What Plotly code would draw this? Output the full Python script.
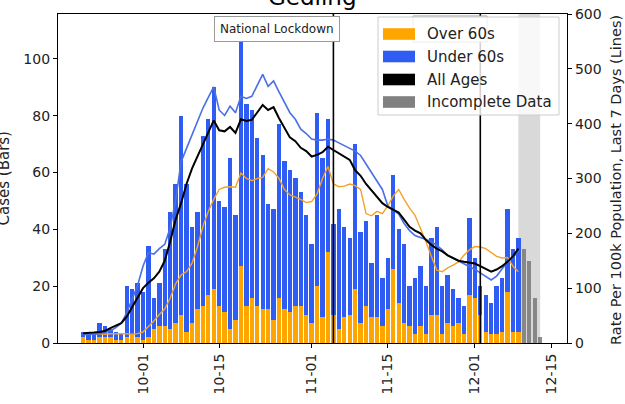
import pandas as pd
import plotly.graph_objects as go

# ---------------- data ----------------
dates = [d.strftime("%Y-%m-%d") for d in pd.date_range("2020-09-20", "2020-12-09")]

over60 = [2, 1, 1, 2, 2, 2, 1, 1, 2, 3, 2,
          1, 2, 5, 6, 6, 5, 7, 10, 4, 7, 12, 13, 17, 19, 13, 11, 5, 8, 27, 13,
          16, 13, 12, 12, 8, 16, 12, 11, 13, 13, 10,
          7, 20, 9, 32, 10, 5, 9, 10, 19, 7, 13, 9, 9, 6, 12, 26, 14, 7, 6, 3,
          6, 3, 10, 10, 3, 7, 6, 7, 3, 17,
          16, 10, 4, 3, 3, 4, 18, 4, 4]

under60 = [2, 2, 2, 5, 4, 3, 3, 2, 18, 16, 19,
           17, 32, 11, 15, 27, 41, 49, 70, 52, 34, 34, 60, 62, 71, 37, 37, 60, 37, 83, 71,
           66, 59, 54, 37, 39, 61, 52, 50, 45, 40, 35,
           28, 61, 56, 47, 32, 42, 32, 27, 51, 32, 30, 19, 36, 17, 18, 33, 26, 28, 14, 20,
           21, 17, 27, 31, 17, 17, 13, 9, 10, 27,
           14, 10, 13, 11, 17, 19, 29, 29, 33]

incomplete_dates = ["2020-12-10", "2020-12-11", "2020-12-12", "2020-12-13"]
incomplete_cases = [33, 29, 16, 2]

rate_over60 = [19, 18, 17, 16, 16, 17, 17, 18, 17, 16, 17,
               20, 30, 40, 52, 62, 82, 108, 124, 130, 145, 175, 212, 240, 262, 280, 284, 285, 284, 310, 300,
               296, 300, 302, 318, 312, 300, 280, 270, 266, 262, 256,
               258, 272, 300, 322, 290, 285, 286, 290, 287, 280, 236, 232, 240, 236, 250, 268, 280, 262, 246, 233,
               210, 185, 158, 133, 130, 137, 142, 148, 160, 170,
               176, 175, 172, 165, 158, 155, 156, 140, 130]

rate_under60 = [15, 15, 16, 17, 19, 22, 28, 36, 55, 80, 105,
                140, 165, 162, 172, 180, 210, 260, 330, 355, 380, 405, 428, 448, 467, 425, 415, 432, 420, 450, 446,
                450, 470, 490, 468, 478, 458, 440, 420, 408, 390, 382,
                372, 370, 370, 372, 370, 365, 360, 356, 350, 342, 326, 312, 295, 280, 250, 243, 235, 218, 205, 196,
                192, 188, 185, 178, 170, 160, 155, 150, 145, 140,
                134, 128, 121, 115, 122, 135, 148, 155, 168]

rate_all = [18, 18, 19, 20, 22, 27, 31, 36, 48, 66, 84,
            100, 110, 118, 130, 150, 185, 225, 255, 290, 318, 340, 362, 385, 406, 388, 386, 394, 383, 408, 405,
            407, 420, 434, 425, 430, 410, 392, 375, 368, 356, 350,
            340, 343, 348, 358, 352, 346, 340, 334, 315, 305, 290, 278, 265, 255, 248, 243, 238, 225, 212, 205,
            200, 188, 179, 172, 167, 160, 155, 150, 148, 147,
            145, 140, 135, 130, 134, 140, 148, 158, 172]

tick_dates = ["2020-10-01", "2020-10-15", "2020-11-01", "2020-11-15", "2020-12-01", "2020-12-15"]
tick_labels = ["10-01", "10-15", "11-01", "11-15", "12-01", "12-15"]

lockdown_date = "2020-11-05"
second_marker_date = "2020-12-02"
incomplete_span = ["2020-12-09", "2020-12-13"]

# ---------------- styling ----------------
FONT = "DejaVu Sans"
ORANGE = "#FFA500"
BLUE = "#2F5CF2"
BLUE_LINE = "#4A6FE6"
ORANGE_LINE = "#F2A22A"
GRAY = "#808080"
BAR_W = 0.8 * 86400000

W, H = 625, 404
L, R, T, B = 58, 58, 14, 61
PW, PH = W - L - R, H - T - B


def px(x):
    return (x - L) / PW


def py(y):
    return (H - B - y) / PH


fig = go.Figure()

fig.add_trace(go.Bar(x=dates, y=over60, name="Over 60s", marker=dict(color=ORANGE, line=dict(width=0)),
                     width=BAR_W, showlegend=False))
fig.add_trace(go.Bar(x=dates, y=under60, name="Under 60s", marker=dict(color=BLUE, line=dict(width=0)),
                     width=BAR_W, showlegend=False))
fig.add_trace(go.Bar(x=incomplete_dates, y=incomplete_cases, name="Incomplete Data",
                     marker=dict(color="rgba(120,120,120,0.85)", line=dict(width=0)),
                     width=BAR_W, showlegend=False))

fig.add_trace(go.Scatter(x=dates, y=rate_over60, mode="lines", line=dict(color=ORANGE_LINE, width=1.4),
                         yaxis="y2", showlegend=False))
fig.add_trace(go.Scatter(x=dates, y=rate_under60, mode="lines", line=dict(color=BLUE_LINE, width=1.6),
                         yaxis="y2", showlegend=False))
fig.add_trace(go.Scatter(x=dates, y=rate_all, mode="lines", line=dict(color="black", width=2),
                         yaxis="y2", showlegend=False))

shapes = []
# incomplete data shading
shapes.append(dict(type="rect", xref="x", yref="paper", x0=incomplete_span[0], x1=incomplete_span[1],
                   y0=0, y1=1, fillcolor="#D9D9D9", line=dict(width=0), layer="below"))
# vertical markers
for d in [lockdown_date, second_marker_date]:
    shapes.append(dict(type="line", xref="x", yref="paper", x0=d, x1=d, y0=0, y1=1,
                       line=dict(color="black", width=1.6), layer="above"))
# hidden label box behind legend
shapes.append(dict(type="rect", xref="paper", yref="paper", x0=px(413), x1=px(487), y0=py(42), y1=py(16),
                   fillcolor="white", line=dict(color="#999999", width=1), layer="above"))
# legend frame
shapes.append(dict(type="rect", xref="paper", yref="paper", x0=px(378), x1=px(559), y0=py(115), y1=py(17),
                   fillcolor="rgba(255,255,255,0.82)", line=dict(color="#CCCCCC", width=1), layer="above"))

legend_items = [("Over 60s", ORANGE, 34), ("Under 60s", BLUE, 56.5), ("All Ages", "black", 79.5),
                ("Incomplete Data", GRAY, 102)]
annotations = []
for label, col, yc in legend_items:
    shapes.append(dict(type="rect", xref="paper", yref="paper", x0=px(383), x1=px(415),
                       y0=py(yc + 5.8), y1=py(yc - 5.8), fillcolor=col, line=dict(width=0), layer="above"))
    annotations.append(dict(text=label, xref="paper", yref="paper", x=px(425), y=py(yc),
                            xanchor="left", yanchor="middle", showarrow=False,
                            font=dict(family=FONT, size=15, color="#222")))

annotations.append(dict(text="National Lockdown", xref="x", yref="paper", x=lockdown_date, xshift=7,
                        y=py(16), xanchor="right", yanchor="top", showarrow=False,
                        font=dict(family=FONT, size=12, color="#222"), bgcolor="white",
                        bordercolor="#999999", borderwidth=1, borderpad=5))

annotations.append(dict(text="Gedling", xref="paper", yref="paper", x=0.5, y=py(12), xanchor="center",
                        yanchor="bottom", showarrow=False, font=dict(family=FONT, size=23, color="black")))
annotations.append(dict(text="Cases (Bars)", xref="paper", yref="paper", x=px(3), y=0.5, textangle=-90,
                        xanchor="center", yanchor="middle", showarrow=False,
                        font=dict(family=FONT, size=15, color="#222")))
annotations.append(dict(text="Rate Per 100k Population, Last 7 Days (Lines)", xref="paper", yref="paper",
                        x=px(616), y=py(180), textangle=-90, xanchor="center", yanchor="middle",
                        showarrow=False, font=dict(family=FONT, size=14.5, color="#222")))

axis_common = dict(ticks="outside", ticklen=4, tickcolor="black", showline=True, linecolor="black",
                   linewidth=1.2, showgrid=False, zeroline=False, automargin=False,
                   tickfont=dict(family=FONT, size=14, color="#222"))

fig.update_layout(
    width=W, height=H, autosize=False,
    margin=dict(l=L, r=R, t=T, b=B, autoexpand=False),
    paper_bgcolor="white", plot_bgcolor="white",
    barmode="stack", bargap=0,
    font=dict(family=FONT, size=14, color="#222"),
    showlegend=False,
    shapes=shapes, annotations=annotations,
    xaxis=dict(type="date", range=["2020-09-15 09:00", "2020-12-17 22:30"],
               tickvals=tick_dates, ticktext=tick_labels, tickangle=-90, mirror=True, **axis_common),
    yaxis=dict(range=[0, 115.8], tickvals=[0, 20, 40, 60, 80, 100], mirror=False, **axis_common),
    yaxis2=dict(range=[0, 600], tickvals=[0, 100, 200, 300, 400, 500, 600], overlaying="y", side="right",
                **axis_common),
)

fig.write_html("out.html", config={"displayModeBar": False},
               post_script="document.body.style.margin='0';document.body.style.padding='0';")
